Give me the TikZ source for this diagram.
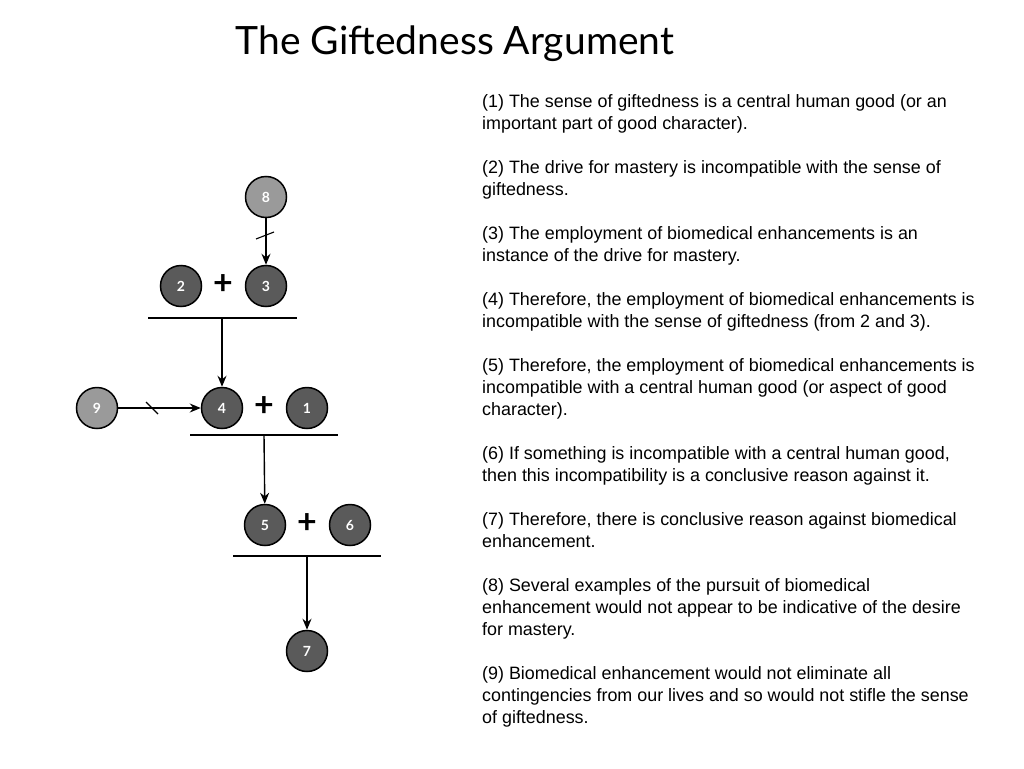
\documentclass[tikz,border=0pt]{standalone}
\usepackage{fontspec}
\setmainfont{Liberation Sans}
\newfontfamily\titlefont{Lato}
\usetikzlibrary{arrows.meta}
\definecolor{darkc}{HTML}{5A5A5A}
\definecolor{lightc}{HTML}{9A9A9A}
\tikzset{
  prem/.style={circle,draw=black,line width=1.5pt,fill=darkc,minimum size=41pt,inner sep=0pt,
    text=white,font={\titlefont\bfseries\fontsize{14}{14}\selectfont}},
  obj/.style={prem,fill=lightc},
  plus/.style={font={\titlefont\bfseries\fontsize{34}{34}\selectfont},inner sep=0pt,anchor=center},
  bar/.style={line width=1.5pt},
  conn/.style={line width=1.4pt,-{Stealth[length=11pt,width=9pt]}},
  tick/.style={line width=1.1pt}
}
\begin{document}
\begin{tikzpicture}[x=1pt,y=1pt]
\useasboundingbox[fill=white] (0,0) rectangle (1024,-768);
\node[anchor=base,font={\titlefont\fontsize{39}{39}\selectfont}] (title) at (455,-55) {The Giftedness Argument};

\node[obj] (n8) at (266,-197) {8};
\node[prem] (n2) at (181,-286) {2};
\node[plus] (p1) at (223,-285) {+};
\node[prem] (n3) at (266,-286) {3};
\coordinate (b1l) at (148,-318);
\coordinate (b1r) at (297,-318);
\coordinate (b1m) at (222,-318);
\draw[bar] (b1l) -- (b1r);

\node[obj] (n9) at (97,-408) {9};
\node[prem] (n4) at (222,-408) {4};
\node[plus] (p2) at (264,-407) {+};
\node[prem] (n1) at (307,-408) {1};
\coordinate (b2l) at (190,-435);
\coordinate (b2r) at (338,-435);
\coordinate (b2m) at (264,-435);
\draw[bar] (b2l) -- (b2r);

\node[prem] (n5) at (265,-525) {5};
\node[plus] (p3) at (307,-524) {+};
\node[prem] (n6) at (350,-525) {6};
\coordinate (b3l) at (233,-556);
\coordinate (b3r) at (381,-556);
\coordinate (b3m) at (307,-556);
\draw[bar] (b3l) -- (b3r);

\node[prem] (n7) at (307,-651) {7};

\draw[conn] (n8) -- (n3);
\coordinate (t1a) at (256,-239);
\coordinate (t1b) at (274,-232);
\draw[tick] (t1a) -- (t1b);
\draw[conn] (n9) -- (n4);
\coordinate (t2a) at (146,-402);
\coordinate (t2b) at (158,-414);
\draw[tick] (t2a) -- (t2b);
\draw[conn] (b1m) -- (n4);
\draw[conn] (b2m) -- (n5);
\draw[conn] (b3m) -- (n7);

\node[anchor=base west,align=left,inner sep=0pt,font={\fontsize{17.9}{22}\selectfont}] (txt) at (482,-723) {%
(1) The sense of giftedness is a central human good (or an\\
important part of good character).\\[22pt]
(2) The drive for mastery is incompatible with the sense of\\
giftedness.\\[22pt]
(3) The employment of biomedical enhancements is an\\
instance of the drive for mastery.\\[22pt]
(4) Therefore, the employment of biomedical enhancements is\\
incompatible with the sense of giftedness (from 2 and 3).\\[22pt]
(5) Therefore, the employment of biomedical enhancements is\\
incompatible with a central human good (or aspect of good\\
character).\\[22pt]
(6) If something is incompatible with a central human good,\\
then this incompatibility is a conclusive reason against it.\\[22pt]
(7) Therefore, there is conclusive reason against biomedical\\
enhancement.\\[22pt]
(8) Several examples of the pursuit of biomedical\\
enhancement would not appear to be indicative of the desire\\
for mastery.\\[22pt]
(9) Biomedical enhancement would not eliminate all\\
contingencies from our lives and so would not stifle the sense\\
of giftedness.};
\end{tikzpicture}
\end{document}
